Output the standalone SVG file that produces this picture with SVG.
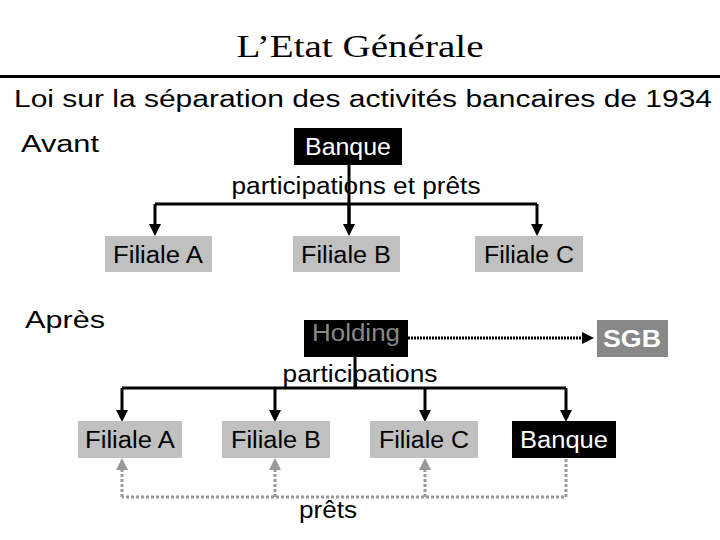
<svg xmlns="http://www.w3.org/2000/svg" width="720" height="540" viewBox="0 0 720 540">
<defs>
<marker id="ab" markerWidth="4" markerHeight="4" refX="2" refY="2" orient="auto"><path d="M0,0L4,2L0,4z" fill="#000"/></marker>
<marker id="ag" markerWidth="4" markerHeight="4" refX="2" refY="2" orient="auto"><path d="M0,0L4,2L0,4z" fill="#999"/></marker>
</defs>
<style>
.s{font-family:"Liberation Sans",Arial,sans-serif;font-size:23px;text-anchor:middle}
.b{font-weight:bold}
.g{fill:#c0c0c0}
.k{stroke:#000;stroke-width:3;fill:none}
.d{stroke:#999;stroke-width:3;fill:none;stroke-dasharray:3 2}
</style>
<rect width="720" height="540" fill="#fff"/>
<text x="360" y="57" font-family="Liberation Serif,serif" font-size="32" text-anchor="middle" textLength="247" lengthAdjust="spacingAndGlyphs">L’Etat Générale</text>
<rect x="0" y="75" width="720" height="3" fill="#000"/>
<text x="363" y="107" class="s" font-size="25" textLength="698" lengthAdjust="spacingAndGlyphs">Loi sur la séparation des activités bancaires de 1934</text>
<text x="60" y="152" class="s" font-size="26" textLength="78" lengthAdjust="spacingAndGlyphs">Avant</text>
<text x="65" y="328" class="s" font-size="26" textLength="80" lengthAdjust="spacingAndGlyphs">Après</text>
<g id="connectors">
<path class="k" d="M349,164V230"/>
<path class="k" d="M155,204H537"/>
<path class="k" d="M155,204V230" marker-end="url(#ab)"/>
<path class="k" d="M349,204V230" marker-end="url(#ab)"/>
<path class="k" d="M537,204V230" marker-end="url(#ab)"/>
<path class="k" d="M355,357V388M122,388H566"/>
<path class="k" d="M122,388V416" marker-end="url(#ab)"/>
<path class="k" d="M275,388V416" marker-end="url(#ab)"/>
<path class="k" d="M425,388V416" marker-end="url(#ab)"/>
<path class="k" d="M566,388V416" marker-end="url(#ab)"/>
<path d="M408,338H588" stroke="#000" stroke-width="3" stroke-dasharray="2 1" marker-end="url(#ab)"/>
<path class="d" d="M566,459V497H122"/>
<path class="d" d="M122,497V464" marker-end="url(#ag)"/>
<path class="d" d="M275,497V464" marker-end="url(#ag)"/>
<path class="d" d="M425,497V464" marker-end="url(#ag)"/>
</g>
<text x="356" y="194" class="s" textLength="249" lengthAdjust="spacingAndGlyphs">participations et prêts</text>
<text x="360" y="382" class="s" textLength="155" lengthAdjust="spacingAndGlyphs">participations</text>
<text x="328" y="518" class="s" textLength="58" lengthAdjust="spacingAndGlyphs">prêts</text>
<g id="banque1"><rect x="294" y="128" width="108" height="37"/><text x="348" y="155" class="s" fill="#fff" textLength="86" lengthAdjust="spacingAndGlyphs">Banque</text></g>
<g id="fa1"><rect class="g" x="105" y="236" width="107" height="36"/><text x="158" y="263" class="s" textLength="90" lengthAdjust="spacingAndGlyphs">Filiale A</text></g>
<g id="fb1"><rect class="g" x="293" y="236" width="107" height="36"/><text x="346" y="263" class="s" textLength="90" lengthAdjust="spacingAndGlyphs">Filiale B</text></g>
<g id="fc1"><rect class="g" x="475" y="236" width="108" height="36"/><text x="529" y="263" class="s" textLength="90" lengthAdjust="spacingAndGlyphs">Filiale C</text></g>
<g id="holding"><rect x="304" y="320" width="104" height="37"/><text x="356" y="341" class="s" fill="#888" textLength="88" lengthAdjust="spacingAndGlyphs">Holding</text></g>
<g id="sgb"><rect x="597" y="320" width="71" height="37" fill="#888"/><text x="632" y="347" class="s b" font-size="25" fill="#fff" textLength="58" lengthAdjust="spacingAndGlyphs">SGB</text></g>
<g id="fa2"><rect class="g" x="78" y="421" width="104" height="37"/><text x="130" y="448" class="s" textLength="90" lengthAdjust="spacingAndGlyphs">Filiale A</text></g>
<g id="fb2"><rect class="g" x="222" y="421" width="108" height="37"/><text x="276" y="448" class="s" textLength="90" lengthAdjust="spacingAndGlyphs">Filiale B</text></g>
<g id="fc2"><rect class="g" x="370" y="421" width="108" height="37"/><text x="424" y="448" class="s" textLength="90" lengthAdjust="spacingAndGlyphs">Filiale C</text></g>
<g id="banque2"><rect x="512" y="421" width="104" height="37"/><text x="564" y="448" class="s" fill="#fff" textLength="88" lengthAdjust="spacingAndGlyphs">Banque</text></g>
</svg>
